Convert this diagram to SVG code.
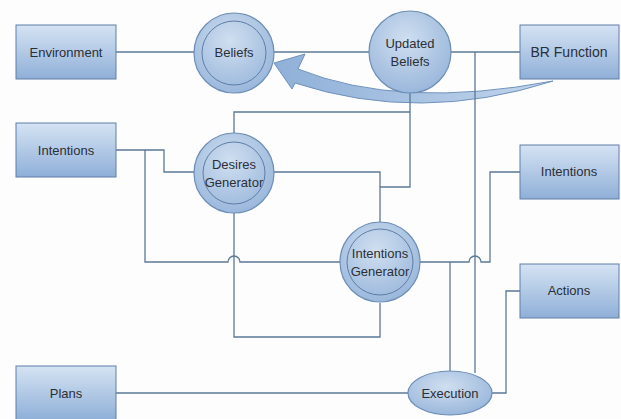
<svg xmlns="http://www.w3.org/2000/svg" width="621" height="419" viewBox="0 0 621 419">
<defs>
<linearGradient id="gBox" x1="0" y1="0" x2="0" y2="1">
<stop offset="0" stop-color="#d5e3f3"/>
<stop offset="1" stop-color="#8fafd8"/>
</linearGradient>
<radialGradient id="gCirc" cx="0.45" cy="0.35" r="0.7">
<stop offset="0" stop-color="#d0dff0"/>
<stop offset="1" stop-color="#96b4da"/>
</radialGradient>
<linearGradient id="gArrow" x1="0" y1="0" x2="1" y2="0">
<stop offset="0" stop-color="#8fb0d8"/>
<stop offset="1" stop-color="#c2d5ec"/>
</linearGradient>
</defs>
<style>
.box{fill:url(#gBox);stroke:#5f7fa8;stroke-width:1}
.circ{fill:url(#gCirc);stroke:#6d8db5;stroke-width:1.2}
.inner{fill:none;stroke:#5e7ea6;stroke-width:1}
.t{font-family:"Liberation Sans",Arial,sans-serif;font-size:13px;fill:#2b2f36;text-anchor:middle}
.c{fill:none;stroke:#5b7899;stroke-width:1.3}
</style>
<rect width="621" height="419" fill="#fcfdfc"/>
<g id="bigArrow"><path d="M274 63 L305 54 L298 69 Q400 110 553 81 Q420 124 295 83 L292 89 Z" fill="url(#gArrow)" stroke="#6f92bd" stroke-width="1" stroke-linejoin="miter"/></g>
<g id="connectors">
<path class="c" d="M116 52 H195"/>
<path class="c" d="M273 52 H370"/>
<path class="c" d="M450 52 H520"/>
<path class="c" d="M475 52 V373"/>
<path class="c" d="M410 93 V187 H380 V222"/>
<path class="c" d="M410 112 H234 V133"/>
<path class="c" d="M273 172 H380 V187"/>
<path class="c" d="M116 150 H164 V172 H195"/>
<path class="c" d="M145 150 V262 H228 A6 6 0 0 1 240 262 H340"/>
<path class="c" d="M234 213 V337 H380 V303"/>
<path class="c" d="M420 262 H469 A6 6 0 0 1 481 262 H490 V172 H520"/>
<path class="c" d="M450 262 V372"/>
<path class="c" d="M520 291 H506 V393 H492"/>
<path class="c" d="M116 393 H408"/>
</g>
<g id="env"><rect class="box" x="16" y="25" width="100" height="54"/><text class="t" x="66" y="57">Environment</text></g>
<g id="intentionsL"><rect class="box" x="16" y="123" width="100" height="54"/><text class="t" x="66" y="155">Intentions</text></g>
<g id="plans"><rect class="box" x="16" y="366" width="100" height="54"/><text class="t" x="66" y="398">Plans</text></g>
<g id="brf"><rect class="box" x="520" y="25" width="99" height="54"/><text class="t" x="569" y="57" style="font-size:14px">BR Function</text></g>
<g id="intentionsR"><rect class="box" x="520" y="145" width="99" height="54"/><text class="t" x="569" y="176">Intentions</text></g>
<g id="actions"><rect class="box" x="520" y="264" width="99" height="54"/><text class="t" x="569" y="295">Actions</text></g>
<g id="beliefs"><circle class="circ" cx="234" cy="53" r="40"/><circle class="inner" cx="234" cy="53" r="32"/><text class="t" x="234" y="57">Beliefs</text></g>
<g id="updated"><circle class="circ" cx="410" cy="52" r="41"/><text class="t" x="410" y="48">Updated</text><text class="t" x="410" y="66">Beliefs</text></g>
<g id="desires"><circle class="circ" cx="234" cy="173" r="40"/><circle class="inner" cx="234" cy="173" r="31"/><text class="t" x="234" y="169">Desires</text><text class="t" x="234" y="187">Generator</text></g>
<g id="intgen"><circle class="circ" cx="380" cy="262" r="40"/><circle class="inner" cx="380" cy="262" r="33"/><text class="t" x="380" y="258">Intentions</text><text class="t" x="380" y="276">Generator</text></g>
<g id="execution"><ellipse class="circ" cx="450" cy="393" rx="42" ry="22"/><text class="t" x="450" y="398">Execution</text></g>
</svg>
